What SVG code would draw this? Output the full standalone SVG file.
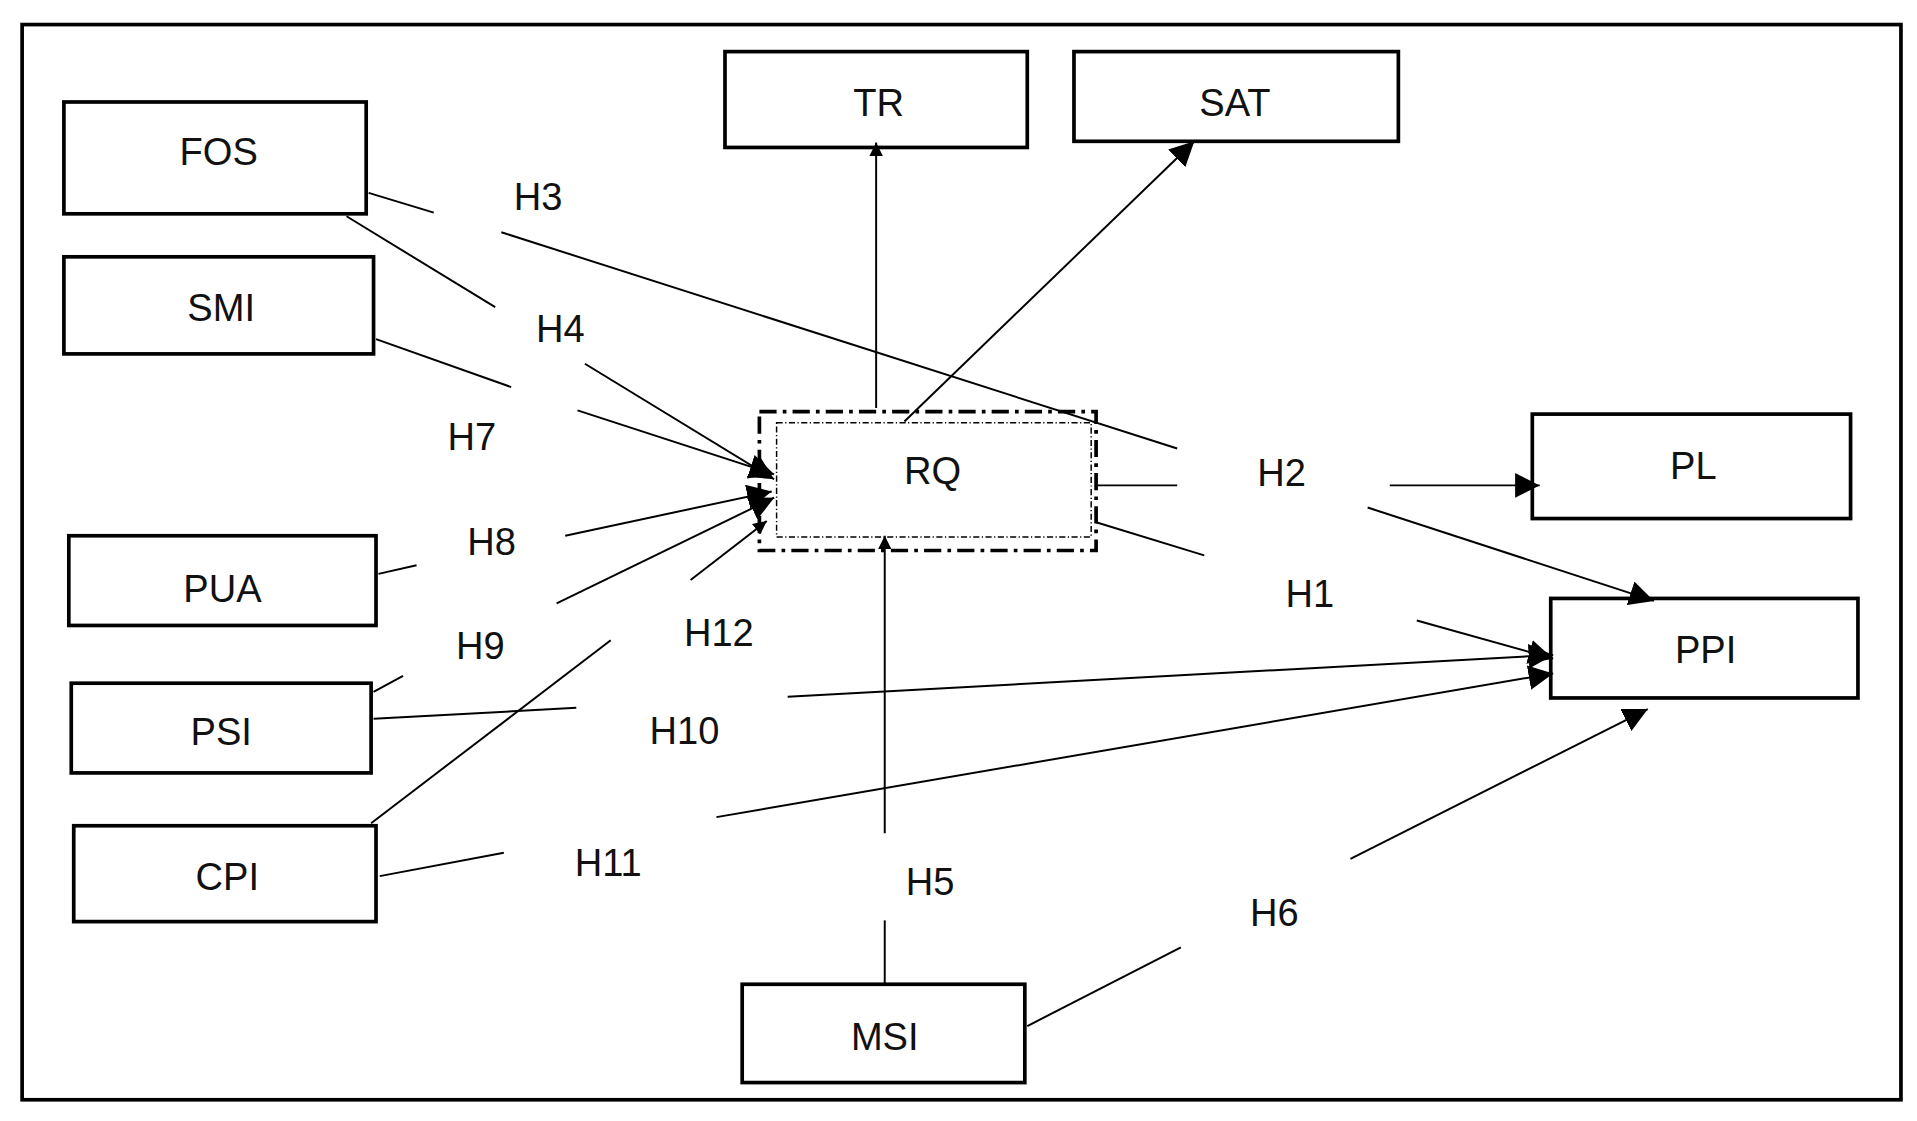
<svg xmlns="http://www.w3.org/2000/svg" width="1917" height="1121" viewBox="0 0 1917 1121">
<style>
.b{fill:none;stroke:#000;stroke-width:3}
text{font-family:"Liberation Sans",Arial,sans-serif;font-size:31px;fill:#111;text-anchor:middle;dominant-baseline:central}
.c line{stroke:#000;stroke-width:1.6}
</style>
<defs><marker id="a" viewBox="0 0 10 10" refX="10" refY="5" markerWidth="11" markerHeight="11" markerUnits="userSpaceOnUse" orient="auto"><path d="M0,0L10,5L0,10z"/></marker>
<marker id="ar" viewBox="0 0 10 10" refX="10" refY="5" markerWidth="20" markerHeight="20" markerUnits="userSpaceOnUse" orient="auto"><path d="M0,0L10,5L0,10z"/></marker></defs>
<rect width="1917" height="1121" fill="#fff"/>
<g transform="scale(1.2288)">
<rect x="18" y="20" width="1529" height="875" class="b"/>
<g id="FOS"><rect x="52" y="83" width="246" height="91" class="b"/><text x="178" y="124">FOS</text></g>
<g id="SMI"><rect x="52" y="209" width="252" height="79" class="b"/><text x="180" y="251">SMI</text></g>
<g id="PUA"><rect x="56" y="436" width="250" height="73" class="b"/><text x="181" y="479">PUA</text></g>
<g id="PSI"><rect x="58" y="556" width="244" height="73" class="b"/><text x="180" y="596">PSI</text></g>
<g id="CPI"><rect x="60" y="672" width="246" height="78" class="b"/><text x="185" y="714">CPI</text></g>
<g id="TR"><rect x="590" y="42" width="246" height="78" class="b"/><text x="715" y="84">TR</text></g>
<g id="SAT"><rect x="874" y="42" width="264" height="73" class="b"/><text x="1005" y="84">SAT</text></g>
<g id="RQ"><rect x="618" y="335" width="274" height="113" fill="none" stroke="#000" stroke-width="3" stroke-dasharray="14,5,3,5"/><rect x="632" y="344" width="256" height="93" fill="none" stroke="#000" stroke-width="1.2" stroke-dasharray="5,2,1,2"/><text x="759" y="383">RQ</text></g>
<g id="PL"><rect x="1247" y="337" width="259" height="85" class="b"/><text x="1378" y="379">PL</text></g>
<g id="PPI"><rect x="1262" y="487" width="250" height="81" class="b"/><text x="1388" y="529">PPI</text></g>
<g id="MSI"><rect x="604" y="801" width="230" height="80" class="b"/><text x="720" y="844">MSI</text></g>
<g id="labels">
<text x="438" y="160">H3</text><text x="456" y="268">H4</text><text x="384" y="356">H7</text><text x="400" y="441">H8</text><text x="391" y="526">H9</text><text x="585" y="515">H12</text><text x="557" y="595">H10</text><text x="495" y="702">H11</text><text x="757" y="718">H5</text><text x="1037" y="743">H6</text><text x="1043" y="385">H2</text><text x="1066" y="483">H1</text>
</g>
<g id="connectors" class="c">
<line x1="300" y1="157" x2="353" y2="173"/><line x1="408" y1="189" x2="958" y2="365"/>
<line x1="282" y1="176" x2="403" y2="250"/><line x1="476" y1="296" x2="630" y2="390" marker-end="url(#ar)"/>
<line x1="306" y1="276" x2="416" y2="315"/><line x1="470" y1="334" x2="630" y2="386" marker-end="url(#ar)"/>
<line x1="308" y1="467" x2="339" y2="460"/><line x1="460" y1="436" x2="628" y2="400" marker-end="url(#ar)"/>
<line x1="304" y1="563" x2="328" y2="550"/><line x1="453" y1="491" x2="630" y2="405" marker-end="url(#ar)"/>
<line x1="302" y1="670" x2="497" y2="521"/><line x1="562" y1="472" x2="624" y2="424" marker-end="url(#a)"/>
<line x1="304" y1="585" x2="469" y2="576"/><line x1="641" y1="567" x2="1264" y2="533" marker-end="url(#ar)"/>
<line x1="309" y1="713" x2="410" y2="694"/><line x1="583" y1="665" x2="1264" y2="548" marker-end="url(#ar)"/>
<line x1="720" y1="800" x2="720" y2="749"/><line x1="720" y1="678" x2="720" y2="436" marker-end="url(#a)"/>
<line x1="836" y1="835" x2="961" y2="771"/><line x1="1099" y1="699" x2="1341" y2="577" marker-end="url(#ar)"/>
<line x1="713" y1="332" x2="713" y2="116" marker-end="url(#a)"/>
<line x1="736" y1="343" x2="972" y2="115" marker-end="url(#ar)"/>
<line x1="892" y1="395" x2="958" y2="395"/><line x1="1131" y1="395" x2="1253" y2="395" marker-end="url(#ar)"/>
<line x1="1113" y1="413" x2="1346" y2="489" marker-end="url(#ar)"/>
<line x1="892" y1="425" x2="980" y2="452"/><line x1="1153" y1="505" x2="1264" y2="536" marker-end="url(#ar)"/>
</g>
</g>
</svg>
